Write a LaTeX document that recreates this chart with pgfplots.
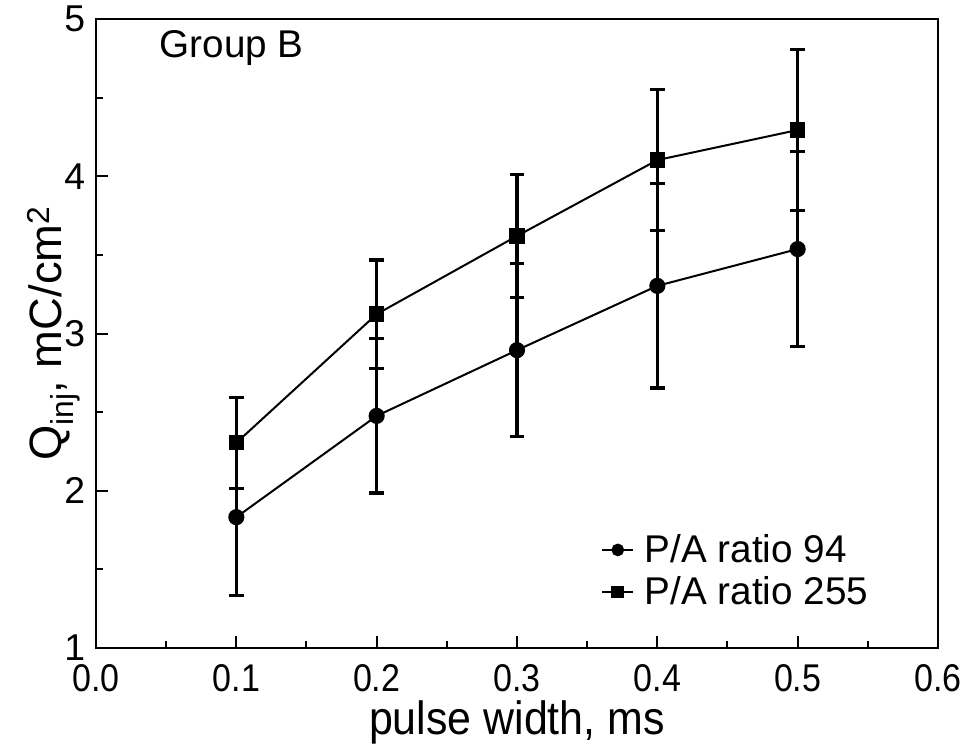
\documentclass[border=0pt]{standalone}
\usepackage{pgfplots}
\pgfplotsset{compat=1.18}
\usepackage{fontspec}
\setmainfont{Liberation Sans}
\newfontfamily\narrowfont[FakeStretch=0.88]{Liberation Sans}
\newfontfamily\labelfont[FakeStretch=0.92]{Liberation Sans}
\begin{document}
\begin{tikzpicture}
\useasboundingbox (-72pt,-76.5pt) rectangle (654pt,486pt);
\begin{axis}[
  scale only axis,
  width=631.5pt, height=471.75pt,
  xmin=0, xmax=0.6, ymin=1, ymax=5,
  xtick={0,0.1,0.2,0.3,0.4,0.5,0.6},
  ytick={1,2,3,4,5},
  minor x tick num=1, minor y tick num=1,
  tick pos=left, tick align=inside,
  major tick length=9pt, minor tick length=5pt,
  every tick/.style={line width=1.5pt, black},
  axis line style={line width=1.8pt},
  /pgf/number format/assume math mode=true,
  /pgf/number format/.cd, fixed, fixed zerofill, precision=1, /pgfplots/.cd,
  xticklabel style={font=\narrowfont\fontsize{29}{30}\selectfont, yshift=-12pt, inner sep=0pt},
  yticklabel style={font=\fontsize{28}{29}\selectfont, xshift=-8pt, inner sep=0pt},
  yticklabel={\pgfmathprintnumber[fixed,precision=0]{\tick}},
  xlabel={pulse width, ms},
  ylabel={Q\textsubscript{inj}, mC/cm\textsuperscript{2}},
  xlabel style={font=\labelfont\fontsize{35}{36}\selectfont, at={(axis description cs:0.5,0)}, anchor=base, yshift=-64.5pt},
  ylabel style={font=\fontsize{34}{36}\selectfont, at={(axis description cs:0,0.5)}, anchor=base, yshift=25.5pt},
  legend style={draw=none, fill=none, at={(axis cs:0.36,1.49)}, anchor=west, font=\fontsize{29}{30}\selectfont, row sep=5pt, inner sep=0pt},
  legend cell align=left,
  legend image code/.code={\draw[mark repeat=2,mark phase=2,#1, mark size=4pt] plot coordinates {(0pt,0pt) (11.5pt,0pt) (23pt,0pt)};},
  error bars/error bar style={line width=2.4pt, black},
  error bars/error mark options={rotate=90, mark size=5.5pt, line width=2.4pt, black},
]
\addplot[black, line width=1.5pt, mark=*, mark size=5.3pt, mark options={solid, fill=black},
  error bars/.cd, y dir=both, y explicit]
  coordinates {
  (0.1,1.832) +- (0,0.50)
  (0.2,2.476) +- (0,0.49)
  (0.3,2.894) +- (0,0.55)
  (0.4,3.303) +- (0,0.65)
  (0.5,3.537) +- (0,0.62)
  };
\addlegendentry{\hspace{6pt}P/A ratio 94}
\addplot[black, line width=1.5pt, mark=square*, mark size=5pt, mark options={solid, fill=black},
  error bars/.cd, y dir=both, y explicit]
  coordinates {
  (0.1,2.305) +- (0,0.29)
  (0.2,3.123) +- (0,0.344)
  (0.3,3.620) +- (0,0.39)
  (0.4,4.103) +- (0,0.45)
  (0.5,4.294) +- (0,0.51)
  };
\addlegendentry{\hspace{6pt}P/A ratio 255}
\node[anchor=west, font=\fontsize{29}{30}\selectfont] at (rel axis cs:0.07,0.954) {Group B};
\end{axis}
\end{tikzpicture}
\end{document}
